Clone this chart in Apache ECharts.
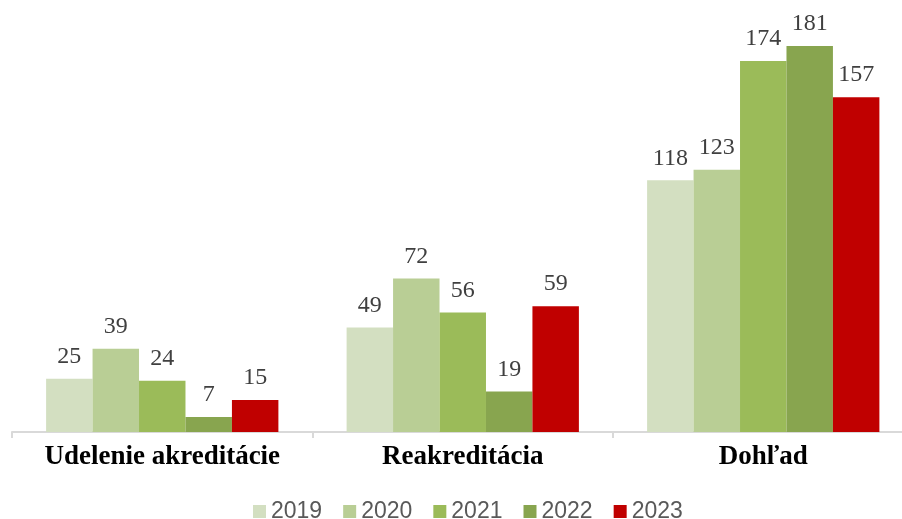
<!DOCTYPE html>
<html><head><meta charset="utf-8">
<script src="https://cdn.jsdelivr.net/npm/echarts@6/dist/echarts.min.js"></script>
<style>html,body{margin:0;padding:0;background:#fff;overflow:hidden}#w{width:902px;height:519px;overflow:hidden}#c{width:914px;height:519px}</style>
</head><body><div id="w"><div id="c"></div></div>
<script>
const categories = ['Udelenie akreditácie', 'Reakreditácia', 'Dohľad'];
const years = ['2019', '2020', '2021', '2022', '2023'];
const v2019 = [25, 49, 118];
const v2020 = [39, 72, 123];
const v2021 = [24, 56, 174];
const v2022 = [7, 19, 181];
const v2023 = [15, 59, 157];
const values = [v2019, v2020, v2021, v2022, v2023];
const colors = ['#D3DFC1', '#B9CE95', '#9BBB59', '#88A54F', '#C00000'];

const chart = echarts.init(document.getElementById('c'), null, {renderer: 'canvas'});
chart.setOption({
  animation: false,
  grid: {left: 12, top: 5.5, right: 0.5, bottom: 87, containLabel: false},
  legend: {
    left: 248, top: 495, itemWidth: 13, itemHeight: 13, itemGap: 21, icon: 'rect',
    textStyle: {fontFamily: 'Liberation Sans', fontSize: 23, color: '#595959'},
    data: years
  },
  xAxis: {
    type: 'category', data: categories,
    axisLine: {lineStyle: {color: '#D9D9D9', width: 2}},
    axisTick: {show: true, length: 6, lineStyle: {color: '#D9D9D9', width: 2}},
    axisLabel: {interval: 0, fontFamily: 'Liberation Serif', fontWeight: 'bold', fontSize: 27, color: '#000', margin: 12}
  },
  yAxis: {type: 'value', min: 0, max: 200, show: false, splitLine: {show: false}},
  series: years.map((y, i) => ({
    name: y, type: 'bar', data: values[i], barGap: '0%', barCategoryGap: '22.7%',
    itemStyle: {color: colors[i]},
    label: {show: true, position: 'top', distance: 10, fontFamily: 'Liberation Serif', fontSize: 24, color: '#404040'}
  }))
});
</script></body></html>
